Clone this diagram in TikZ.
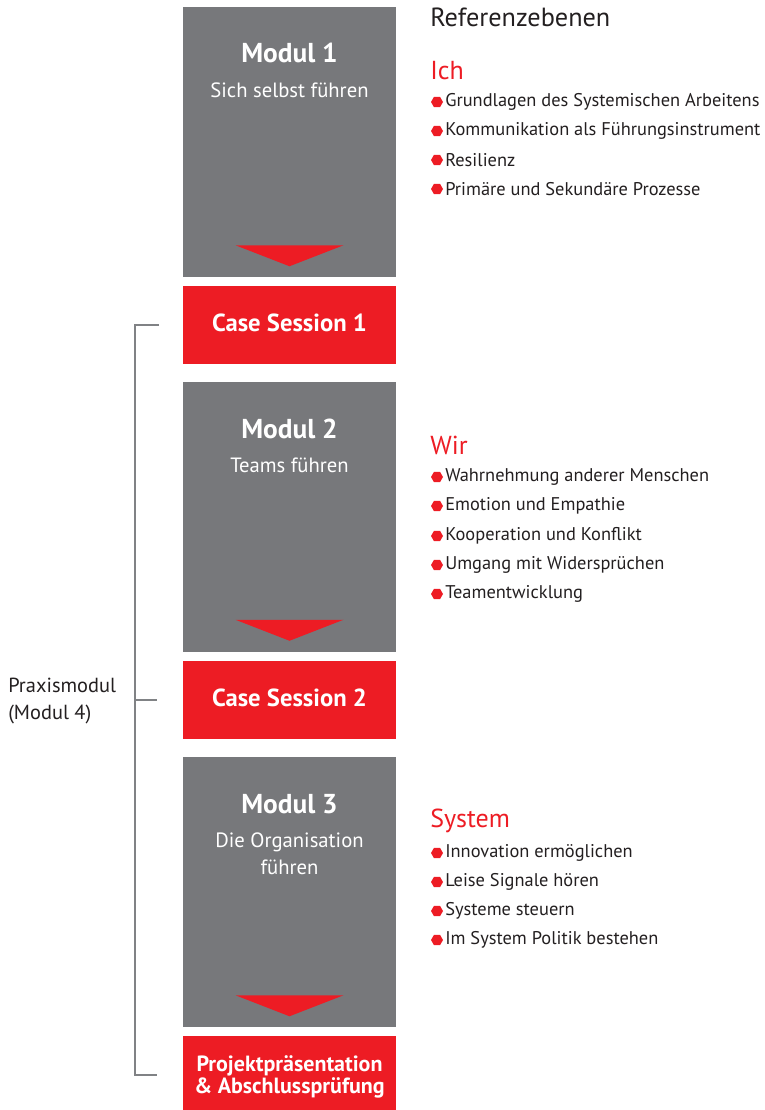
\documentclass[tikz,border=0pt]{standalone}
\usepackage{fontspec}
\setmainfont{PT Sans}
\usetikzlibrary{shapes.geometric,calc}
\definecolor{grau}{HTML}{77787B}
\definecolor{rot}{HTML}{ED1C24}
\definecolor{linie}{HTML}{808285}
\definecolor{schrift}{HTML}{231F20}
\tikzset{
  modbox/.style={fill=grau,minimum width=159.75pt,minimum height=202.5pt,inner sep=0pt},
  casebox/.style={fill=rot,minimum width=159.75pt,minimum height=58.5pt,inner sep=0pt,
    text=white,font=\fontsize{18.5}{22}\selectfont\bfseries,align=center},
  titel/.style={text=white,font=\fontsize{20.5}{24}\selectfont\bfseries},
  untertitel/.style={text=white,font=\fontsize{15.5}{20}\selectfont,align=center},
  ebene/.style={anchor=west,text=rot,font=\fontsize{19.5}{22}\selectfont,inner sep=0pt},
  punkt/.style={anchor=west,text=schrift,font=\fontsize{13.8}{16}\selectfont,inner sep=0pt},
  hex/.style={regular polygon,regular polygon sides=6,fill=rot,minimum size=9pt,inner sep=0pt},
  pfeil/.style={fill=rot},
  klammer/.style={draw=linie,line width=1.6pt}
}
\newcommand{\spitze}[1]{\fill[pfeil] ($(#1.south)+(-54,-32)$) -- ($(#1.south)+(54,-32)$) -- ($(#1.south)+(0,-11)$) -- cycle;}
\begin{document}
\begin{tikzpicture}[x=0.75pt,y=-0.75pt]
\useasboundingbox (0,0) rectangle (764,1110);
% Module
\node[modbox] (m1) at (289.5,142) {};
\node[modbox] (m2) at (289.5,516.5) {};
\node[modbox] (m3) at (289.5,892) {};
\spitze{m1}
\spitze{m2}
\spitze{m3}
\node[titel] (t1) at (289.5,53) {Modul 1};
\node[untertitel] (u1) at (289.5,90) {Sich selbst führen};
\node[titel] (t2) at (289.5,429) {Modul 2};
\node[untertitel] (u2) at (289.5,465) {Teams führen};
\node[titel] (t3) at (289.5,804) {Modul 3};
\node[untertitel] (u3) at (289.5,853.5) {Die Organisation\\führen};
% Case Sessions
\node[casebox] (c1) at (289.5,325) {\raisebox{1.5pt}[\height][\depth]{Case Session 1}};
\node[casebox] (c2) at (289.5,700) {\raisebox{1.5pt}[\height][\depth]{Case Session 2}};
\node[casebox,minimum height=55.5pt,font=\fontsize{16.5}{18}\selectfont\bfseries] (c3) at (289.5,1073)
  {\raisebox{-3.5pt}[\height][\depth]{\begin{tabular}{@{}c@{}}Projektpräsentation\\[-1pt]\& Abschlussprüfung\end{tabular}}};
% Klammer
\coordinate (k1) at (135,325);
\coordinate (k2) at (135,700);
\coordinate (k3) at (135,1075);
\draw[klammer] ($(k1)+(24,0)$) -- (k1) -- (k3) -- ($(k3)+(22,0)$);
\draw[klammer] (k2) -- ($(k2)+(22,0)$);
\node[anchor=west,align=left,text=schrift,font=\fontsize{15.3}{20.3}\selectfont,inner sep=0pt] (praxis) at (8,701) {Praxismodul\\(Modul 4)};
% Referenzebenen
\node[anchor=west,text=schrift,font=\fontsize{19.7}{22}\selectfont,inner sep=0pt] (ref) at (430,17) {Referenzebenen};
\node[ebene] (ich) at (430,71) {Ich};
\node[ebene] (wir) at (430,445) {Wir};
\node[ebene] (sys) at (430,821) {System};
% Ich
\foreach \y/\txt in {102/Grundlagen des Systemischen Arbeitens,131/Kommunikation als Führungsinstrument,160/Resilienz,189/Primäre und Sekundäre Prozesse}{
  \node[hex] (h\y) at (437,\y) {};
  \node[punkt] (p\y) at (445,\y) {\txt};
}
% Wir
\foreach \y/\txt in {477/Wahrnehmung anderer Menschen,506/Emotion und Empathie,536/Kooperation und Konflikt,565/Umgang mit Widersprüchen,594/Teamentwicklung}{
  \node[hex] (h\y) at (437,\y) {};
  \node[punkt] (p\y) at (445,\y) {\txt};
}
% System
\foreach \y/\txt in {853/Innovation ermöglichen,882/Leise Signale hören,911/Systeme steuern,940/Im System Politik bestehen}{
  \node[hex] (h\y) at (437,\y) {};
  \node[punkt] (p\y) at (445,\y) {\txt};
}
\end{tikzpicture}
\end{document}
